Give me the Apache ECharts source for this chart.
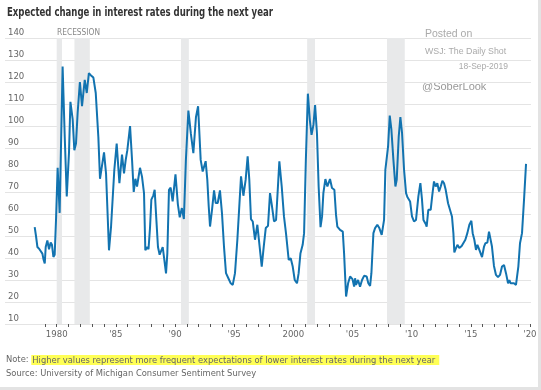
<!DOCTYPE html>
<html><head><meta charset="utf-8">
<script src="https://cdn.jsdelivr.net/npm/echarts@6/dist/echarts.min.js"></script>
<style>html,body{margin:0;padding:0;background:#fff}#c{width:541px;height:390px}</style>
</head><body><div id="c"></div>
<script>
const years = [1978.14,1978.25,1978.37,1978.54,1978.7,1978.79,1978.88,1978.99,1979.07,1979.21,1979.35,1979.49,1979.6,1979.72,1979.83,1979.94,
1980.08,1980.25,1980.5,1980.68,1980.85,1981.04,1981.16,1981.35,1981.49,1981.63,1981.77,1981.96,1982.14,1982.37,1982.54,1982.72,1982.9,
1983.1,1983.3,1983.52,1983.66,1983.77,1984.0,1984.17,1984.42,1984.59,1984.87,1985.07,1985.3,1985.52,1985.69,1985.83,1985.97,
1986.2,1986.37,1986.51,1986.65,1986.79,1987.04,1987.21,1987.38,1987.49,1987.66,1987.76,1987.89,1988.0,1988.17,1988.28,1988.39,1988.56,1988.7,1988.85,1988.96,
1989.1,1989.24,1989.35,1989.49,1989.63,1989.8,1990.04,1990.24,1990.4,1990.58,1990.75,1990.92,1991.13,1991.34,1991.55,1991.77,1991.95,
1992.17,1992.34,1992.59,1992.73,1992.85,1992.96,1993.13,1993.3,1993.44,1993.61,1993.8,1993.97,1994.14,1994.31,1994.51,1994.71,1994.88,
1995.07,1995.27,1995.58,1995.78,1995.97,1996.14,1996.28,1996.42,1996.57,1996.76,1996.96,1997.1,1997.33,1997.5,1997.67,1997.86,
1998.03,1998.2,1998.37,1998.54,1998.82,1999.02,1999.21,1999.38,1999.61,1999.78,1999.95,2000.12,2000.31,2000.45,2000.6,2000.79,2000.91,
2001.06,2001.23,2001.4,2001.54,2001.7,2001.84,2002.0,2002.14,2002.3,2002.43,2002.54,2002.71,2002.88,2003.1,2003.27,2003.47,2003.61,2003.72,2003.87,2003.95,
2004.18,2004.29,2004.46,2004.63,2004.8,2005.0,2005.14,2005.22,2005.3,2005.47,2005.64,2005.81,2005.98,2006.2,2006.34,2006.49,2006.6,2006.77,2006.91,
2007.1,2007.27,2007.47,2007.67,2007.78,2007.89,2008.01,2008.15,2008.29,2008.46,2008.63,2008.74,2008.91,2009.05,2009.19,2009.36,2009.53,2009.64,2009.75,2009.87,
2010.03,2010.2,2010.37,2010.57,2010.74,2010.87,2011.0,2011.19,2011.27,2011.41,2011.61,2011.75,2011.89,2012.03,2012.17,2012.32,2012.46,2012.6,2012.74,2012.88,
2013.08,2013.24,2013.41,2013.53,2013.61,2013.75,2013.87,2014.03,2014.23,2014.37,2014.54,2014.71,2014.88,2015.05,2015.16,2015.3,2015.44,2015.56,2015.7,2015.84,2015.95,
2016.12,2016.23,2016.4,2016.54,2016.65,2016.79,2016.96,2017.13,2017.3,2017.47,2017.64,2017.81,2017.98,2018.15,2018.26,2018.37,2018.48,2018.65,2018.82,2018.93,
2019.02,2019.16,2019.33,2019.5,2019.67];
const values = [54,50,45,44,43.5,42,39.5,37.5,45,48,44,47,46,40.5,41.5,57,
81,60.5,127,95,68,88,111,103,89,92,106,120,109,121,115,124,123,
122,115,95,76,76,88,78.5,43.5,54,80,92,74,87,78.5,84.5,89,
100,84.5,70,76,72.5,81,77,69.5,43.5,45,44,54,66.5,68.5,71,60.5,45,41.5,41.5,45,
39,33,42,71,72,65.7,78,64.5,58.5,62.7,57.7,84.6,107,96.5,87.7,104,109,
84.6,79.3,84,75.5,63.4,54.3,62,70.7,65,65,70.7,60.4,45.2,33.1,30.8,28.5,27.8,
33.1,48.3,77.1,68.3,75.5,86.2,75.5,57.7,56.6,48.3,55.1,54.3,36.1,45.2,53.6,54.6,
69.5,63.4,56.6,57.3,83.9,72.5,58.9,51.3,39.1,39.9,36.1,30,28.5,33.1,42,46,51.3,
84.6,114.7,102.5,96,100.5,109.5,96.5,72.5,54,58.9,69.5,75.9,72.5,75.9,71.8,71,59.6,54.3,55.1,52.8,
52,42.2,22.5,28.5,31.6,30.4,27,30.8,27.8,30,27,30,31.9,31.6,28.5,27.3,33.1,51.3,53.6,
55.1,53.6,50.5,57.3,80.1,80.9,90.7,104.7,98.3,84.6,72.5,75.5,95.3,104.1,96.8,80.1,69.5,67.7,68,65.7,
58.9,56.6,57.3,68,74,67,57.3,55.5,54.3,61.9,61.9,68.7,74.8,72.5,74,70.2,72.5,75.1,74,71,
64.9,64.2,58.9,51.3,42.5,44.5,46,44.5,45.5,46,48.3,51.3,55.1,56.9,51.3,48.3,43.7,46,44,43.7,40.4,
45.2,46.7,47,52,51.3,45.2,36.4,32.3,31.3,32.3,36.1,36.8,33,28.5,30,28.5,29.3,28.5,27.8,27.3,
36.1,46.7,51.3,66.4,82.8];
const recessions = [[1980.0,1980.45],[1981.5,1982.8],[1990.5,1991.17],[2001.17,2001.83],[2007.92,2009.42]];
const tickYears = [];
for (let y = 1979; y <= 2020; y++) tickYears.push(y);
const labelYears = [1980,1985,1990,1995,2000,2005,2010,2015,2020];
const yTicks = {min: 10, max: 140, step: 10};
const title = 'Expected change in interest rates during the next year';
const noteLead = 'Note: ';
const noteHi = 'Higher values represent more frequent expectations of lower interest rates during the next year';
const source = 'Source: University of Michigan Consumer Sentiment Survey';

const NF = '"Liberation Sans Narrow","DejaVu Sans Condensed","Arial Narrow",sans-serif';
const AF = '"Liberation Sans",Arial,sans-serif';

const mctx = document.createElement('canvas').getContext('2d');
function fitScale(text, font, target) {
  mctx.font = font;
  const w = mctx.measureText(text).width;
  return Math.min(1, target / w);
}
const titleFont = 'bold 12px "DejaVu Sans Condensed",sans-serif';
const titleScale = fitScale(title, titleFont, 266);
const recFont = '9px "DejaVu Sans Condensed",sans-serif';
const recScale = fitScale('RECESSION', recFont, 43);

const chart = echarts.init(document.getElementById('c'), null, {renderer: 'canvas'});
chart.setOption({
  animation: false,
  backgroundColor: '#fff',
  grid: {left: 5, right: 10, top: 38, bottom: 66, containLabel: false},
  xAxis: {
    type: 'value', min: 1975.63, max: 2020.09,
    splitLine: {show: false}, axisLine: {show: false},
    axisTick: {show: true, customValues: tickYears, length: 3, lineStyle: {color: '#555', width: 1}},
    axisLabel: {customValues: labelYears, margin: 6, color: '#666', fontSize: 9.5, fontFamily: NF,
      formatter: v => (v === 1980 || v === 2000) ? String(v) : "'" + String(v).slice(2)}
  },
  yAxis: {
    type: 'value', min: yTicks.min, max: yTicks.max, interval: yTicks.step,
    axisLine: {show: false}, axisTick: {show: false},
    splitLine: {lineStyle: {color: '#e4e4e4', width: 1}},
    axisLabel: {inside: true, margin: 3, verticalAlign: 'bottom', lineHeight: 10, color: '#666', fontSize: 9.5, fontFamily: NF}
  },
  series: [{
    type: 'line', data: years.map((y, i) => [y, values[i]]), showSymbol: false, symbol: 'none',
    lineStyle: {color: '#1273b0', width: 2}, z: 3,
    markArea: {silent: true, itemStyle: {color: '#e8e9ea'},
      data: recessions.map(r => [{xAxis: r[0]}, {xAxis: r[1]}])}
  }],
  graphic: [
    {type: 'text', x: 7, y: 13, scaleX: titleScale,
      style: {text: title, font: titleFont, fill: '#333', verticalAlign: 'middle', align: 'left'}},
    {type: 'text', x: 57, y: 33, scaleX: recScale,
      style: {text: 'RECESSION', font: recFont, fill: '#888', verticalAlign: 'middle', align: 'left'}},
    {type: 'text', left: 425, top: 29, style: {text: 'Posted on', font: '10.5px ' + AF, fill: '#aaa'}},
    {type: 'text', left: 425, top: 47, style: {text: 'WSJ: The Daily Shot', font: '8.8px ' + AF, fill: '#aaa'}},
    {type: 'text', right: 33, top: 62, style: {text: '18-Sep-2019', font: '8.5px ' + AF, fill: '#aaa'}},
    {type: 'text', left: 422, top: 81, style: {text: '@SoberLook', font: '11px ' + AF, fill: '#999'}},
    {type: 'text', left: 6, top: 355, style: {
      text: '{n|' + noteLead + '}{h|' + noteHi + '}', fill: '#666',
      rich: {n: {fontFamily: NF, fontSize: 9.3, fill: '#666', color: '#666'},
             h: {fontFamily: NF, fontSize: 9.3, fill: '#666', color: '#666', backgroundColor: '#ffff55', padding: [1, 4, 0, 1]}}
    }},
    {type: 'text', left: 6, top: 369, style: {text: source, font: '9.3px ' + NF, fill: '#666'}},
    {type: 'rect', shape: {x: 538, y: 0, width: 3, height: 390}, style: {fill: '#e3e3e3'}},
    {type: 'rect', shape: {x: 0, y: 387, width: 541, height: 3}, style: {fill: '#e3e3e3'}}
  ]
});
</script></body></html>
